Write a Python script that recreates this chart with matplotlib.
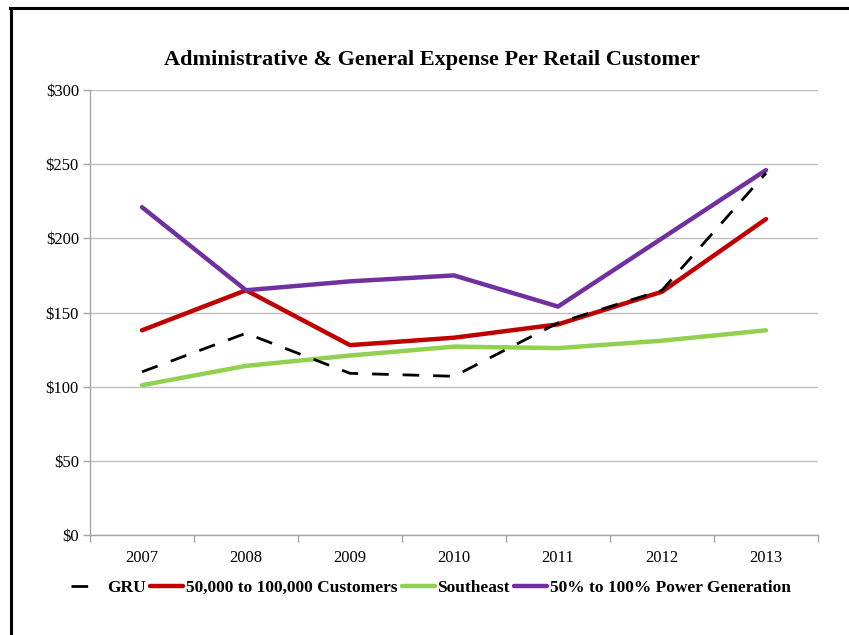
import matplotlib
matplotlib.use("Agg")
import matplotlib.pyplot as plt
from matplotlib.lines import Line2D
from matplotlib.ticker import FuncFormatter, FixedLocator
import numpy as np

years = ["2007", "2008", "2009", "2010", "2011", "2012", "2013"]
gru = [110, 136, 109, 107, 143, 165, 244]
customers_50k_100k = [138, 165, 128, 133, 142, 164, 213]
southeast = [101, 114, 121, 127, 126, 131, 138]
power_gen_50_100 = [221, 165, 171, 175, 154, 200, 246]

series_labels = ["GRU", "50,000 to 100,000 Customers", "Southeast",
                 "50% to 100% Power Generation"]
colors = ["#000000", "#C00000", "#92D050", "#7030A0"]

plt.rcParams["font.family"] = ["Liberation Serif", "DejaVu Serif"]

fig = plt.figure(figsize=(8.49, 6.35), dpi=100)
W, H = 849, 635
ax = fig.add_axes([90 / W, 1 - 535 / H, 728 / W, 445 / H])

x = np.arange(len(years))
ax.plot(x, gru, color=colors[0], lw=2.0, dashes=(6, 5), label=series_labels[0],
        zorder=5)
ax.plot(x, customers_50k_100k, color=colors[1], lw=3.2, label=series_labels[1],
        solid_capstyle="round", solid_joinstyle="round", zorder=4)
ax.plot(x, southeast, color=colors[2], lw=3.2, label=series_labels[2],
        solid_capstyle="round", solid_joinstyle="round", zorder=3)
ax.plot(x, power_gen_50_100, color=colors[3], lw=3.2, label=series_labels[3],
        solid_capstyle="round", solid_joinstyle="round", zorder=4)

ax.set_xlim(-0.5, len(years) - 0.5)
ax.set_ylim(0, 300)
ax.set_yticks(np.arange(0, 301, 50))
ax.yaxis.set_major_formatter(FuncFormatter(lambda v, p: f"${v:,.0f}"))
ax.grid(axis="y", color="#BFBFBF", lw=1.0)
ax.set_axisbelow(True)

# category labels centered, tick marks on category boundaries
ax.set_xticks(x)
ax.set_xticklabels(years)
ax.tick_params(axis="x", length=0, pad=11, labelsize=12)
ax.xaxis.set_minor_locator(FixedLocator(np.arange(-0.5, len(years), 1.0)))
ax.tick_params(axis="x", which="minor", length=5, color="#A6A6A6", width=1)
ax.tick_params(axis="y", length=5, color="#A6A6A6", width=1, labelsize=12, pad=3)

for side in ["top", "right"]:
    ax.spines[side].set_visible(False)
for side in ["left", "bottom"]:
    ax.spines[side].set_color("#A6A6A6")
    ax.spines[side].set_linewidth(1.0)

fig.text(432 / W, 1 - 60 / H, "Administrative & General Expense Per Retail Customer",
         ha="center", va="center", fontsize=16, fontweight="bold")

handles = [
    Line2D([], [], color=colors[0], lw=2.0, dashes=(6, 8)),
    Line2D([], [], color=colors[1], lw=3.2, solid_capstyle="round"),
    Line2D([], [], color=colors[2], lw=3.2, solid_capstyle="round"),
    Line2D([], [], color=colors[3], lw=3.2, solid_capstyle="round"),
]
fig.legend(handles, series_labels, loc="center", bbox_to_anchor=(431 / W, 1 - 588 / H),
           ncol=4, frameon=False, handlelength=1.9, handletextpad=0.15,
           columnspacing=0.25, prop={"weight": "bold", "size": 12.5})

# outer frame of the chart
fig.add_artist(Line2D([11 / W, 11 / W], [0, 1 - 8 / H], transform=fig.transFigure,
                      color="black", lw=2.2))
fig.add_artist(Line2D([10 / W, 1.0], [1 - 8 / H, 1 - 8 / H], transform=fig.transFigure,
                      color="black", lw=2.2))

fig.savefig("out.png", dpi=100, facecolor="white")
